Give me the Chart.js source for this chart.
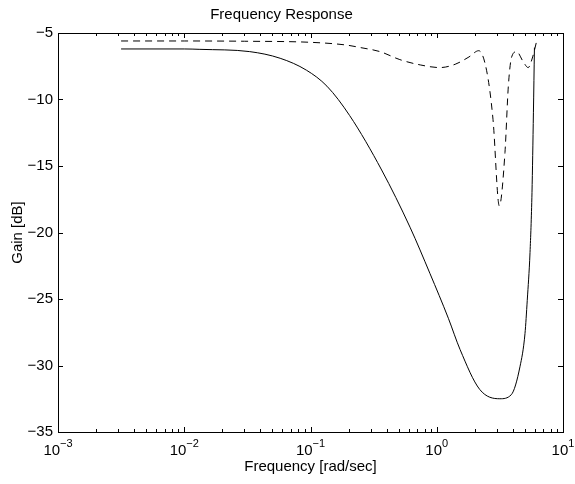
<!DOCTYPE html>
<html>
<head>
<meta charset="utf-8">
<script src="https://cdn.jsdelivr.net/npm/chart.js@4/dist/chart.umd.min.js"></script>
<style>
    html, body { margin: 0; padding: 0; background: #fff; }
    #wrap { width: 575px; height: 484px; }
</style>
</head>
<body>
<div id="wrap"><canvas id="freqChart" width="575" height="484"></canvas></div>
<script>
        // Data
        const solidFreq = [0.00316, 0.01, 0.0133, 0.033, 0.0575, 0.093, 0.135, 0.204, 0.366, 0.614, 0.885, 1.236, 1.53, 2.19, 3.16, 3.89, 4.56, 5.0, 5.21, 5.48, 5.68, 5.83, 5.94];
        const solidGain = [-6.2, -6.2, -6.23, -6.4, -6.9, -7.8, -9.0, -11.2, -15.3, -19.6, -23.1, -26.45, -28.8, -31.8, -32.5, -32.2, -30.1, -27.6, -25.1, -21.5, -17.0, -11.0, -6.1];

        const dashFreq = [0.00316, 0.01, 0.03, 0.1, 0.19, 0.25, 0.355, 0.51, 0.74, 1.06, 1.4, 1.8, 2.15, 2.48, 2.79, 3.13, 3.47, 3.69, 3.92, 4.3, 4.8, 5.3, 5.75, 6.17];
        const dashGain = [-5.6, -5.6, -5.62, -5.7, -5.9, -6.1, -6.4, -7.0, -7.4, -7.6, -7.35, -6.8, -6.33, -7.8, -11.5, -18.0, -14.0, -9.0, -6.8, -6.4, -7.1, -7.6, -6.8, -5.65];

        const xTickValues = [0.001, 0.01, 0.1, 1, 10];
        const xTickExponents = ['-3', '-2', '-1', '0', '1'];
        const yTickValues = [-35, -30, -25, -20, -15, -10, -5];

        const FONT = 'Liberation Sans, Arial, Helvetica, sans-serif';

        function toPoints(xs, ys) {
            return xs.map((f, i) => ({ x: f, y: ys[i] }));
        }

        // Inward ticks on all four sides, box frame, and 10^n labels
        const matlabAxes = {
            id: 'matlabAxes',
            afterDraw(chart) {
                const { ctx, chartArea: a, scales: { x, y } } = chart;
                ctx.save();
                ctx.strokeStyle = '#000';
                ctx.lineWidth = 1;
                ctx.beginPath();

                yTickValues.forEach(v => {
                    const py = Math.round(y.getPixelForValue(v)) + 0.5;
                    ctx.moveTo(a.left, py); ctx.lineTo(a.left + 5, py);
                    ctx.moveTo(a.right, py); ctx.lineTo(a.right - 5, py);
                });

                xTickValues.forEach((v, i) => {
                    const px = Math.round(x.getPixelForValue(v)) + 0.5;
                    ctx.moveTo(px, a.bottom); ctx.lineTo(px, a.bottom - 5);
                    ctx.moveTo(px, a.top); ctx.lineTo(px, a.top + 5);
                    if (i < xTickValues.length - 1) {
                        for (let m = 2; m <= 9; m++) {
                            const mx = Math.round(x.getPixelForValue(v * m)) + 0.5;
                            ctx.moveTo(mx, a.bottom); ctx.lineTo(mx, a.bottom - 3);
                            ctx.moveTo(mx, a.top); ctx.lineTo(mx, a.top + 3);
                        }
                    }
                });
                ctx.stroke();

                ctx.strokeRect(Math.round(a.left) + 0.5, Math.round(a.top) + 0.5,
                    Math.round(a.right - a.left), Math.round(a.bottom - a.top));

                // x tick labels with superscript exponents
                ctx.fillStyle = '#000';
                ctx.textBaseline = 'alphabetic';
                ctx.textAlign = 'left';
                xTickValues.forEach((v, i) => {
                    const px = x.getPixelForValue(v);
                    ctx.font = '15px ' + FONT;
                    const baseW = ctx.measureText('10').width;
                    ctx.font = '11px ' + FONT;
                    const expText = xTickExponents[i].replace('-', '\u2212');
                    const expW = ctx.measureText(expText).width;
                    const left = px - (baseW + expW) / 2;
                    ctx.font = '15px ' + FONT;
                    ctx.fillText('10', left, a.bottom + 23);
                    ctx.font = '11px ' + FONT;
                    ctx.fillText(expText, left + baseW, a.bottom + 15);
                });
                ctx.restore();
            }
        };

        const ctx = document.getElementById('freqChart').getContext('2d');
        new Chart(ctx, {
            type: 'line',
            data: {
                datasets: [{
                    label: 'solid',
                    data: toPoints(solidFreq, solidGain),
                    borderColor: '#000',
                    borderWidth: 1,
                    pointRadius: 0,
                    cubicInterpolationMode: 'monotone'
                }, {
                    label: 'dashed',
                    data: toPoints(dashFreq, dashGain),
                    borderColor: '#000',
                    borderWidth: 1,
                    borderDash: [7, 5],
                    pointRadius: 0,
                    cubicInterpolationMode: 'monotone'
                }]
            },
            options: {
                responsive: false,
                animation: false,
                layout: { padding: { top: 0, right: 12, left: 0, bottom: 0 } },
                plugins: {
                    legend: { display: false },
                    tooltip: { enabled: false },
                    title: {
                        display: true,
                        text: 'Frequency Response',
                        color: '#000',
                        font: { size: 15, family: FONT, weight: 'normal' },
                        padding: { top: 6, bottom: 9 }
                    }
                },
                scales: {
                    x: {
                        type: 'logarithmic',
                        min: 0.001,
                        max: 10,
                        grid: { display: false, drawTicks: false },
                        border: { display: false },
                        ticks: { callback: () => '' },
                        title: {
                            display: true,
                            text: 'Frequency [rad/sec]',
                            color: '#000',
                            font: { size: 15, family: FONT },
                            padding: { top: 0, bottom: 8 }
                        },
                        afterFit: s => { s.height = 52; }
                    },
                    y: {
                        type: 'linear',
                        min: -35,
                        max: -5,
                        grid: { display: false, drawTicks: false },
                        border: { display: false },
                        ticks: {
                            stepSize: 5,
                            padding: 5,
                            color: '#000',
                            font: { size: 15, family: FONT },
                            callback: v => (v < 0 ? '\u2212' + Math.abs(v) : String(v))
                        },
                        title: {
                            display: true,
                            text: 'Gain [dB]',
                            color: '#000',
                            font: { size: 15, family: FONT },
                            padding: { top: 9, bottom: 0 }
                        },
                        afterFit: s => { s.width = 58; }
                    }
                }
            },
            plugins: [matlabAxes]
        });
</script>
</body>
</html>
